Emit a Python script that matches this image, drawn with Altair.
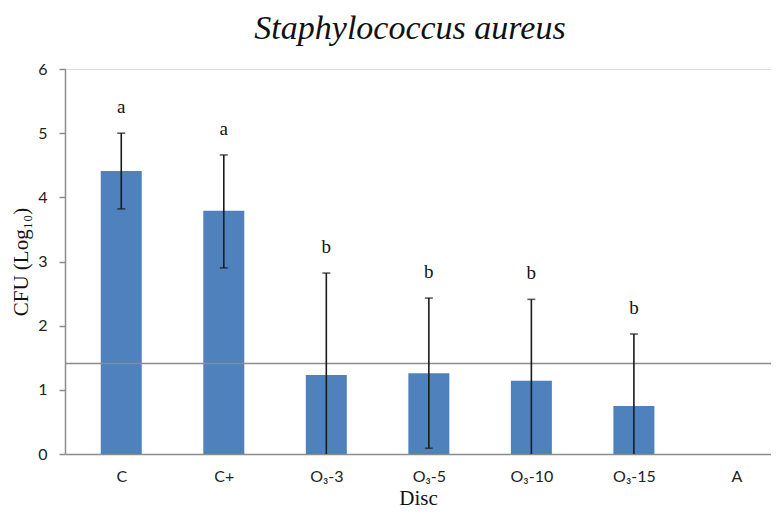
import json
import altair as alt
import pandas as pd

# ---- data ----
categories = ["C", "C+", "O₃-3", "O₃-5", "O₃-10", "O₃-15", "A"]
means = [4.41, 3.79, 1.23, 1.26, 1.14, 0.75, 0.0]
err_low = [3.82, 2.90, 0.0, 0.09, 0.0, 0.0, None]
err_high = [5.00, 4.66, 2.82, 2.43, 2.41, 1.87, None]
letters = ["a", "a", "b", "b", "b", "b", ""]
threshold = [1.41]
y_ticks = [0, 1, 2, 3, 4, 5, 6]

df = pd.DataFrame({
    "cat": categories,
    "idx": list(range(len(categories))),
    "mean": means,
    "lo": err_low,
    "hi": err_high,
    "letter": letters,
})
df["pos"] = df["idx"] + 0.5

W, H = 706, 385
STEP = 104.0
x_domain = [0, W / STEP]

label_expr = json.dumps(categories, ensure_ascii=False) + "[floor(datum.value)]"

x = alt.X("pos:Q",
          scale=alt.Scale(domain=x_domain, nice=False, zero=False),
          axis=alt.Axis(values=[i + 0.5 for i in range(len(categories))],
                        labelExpr=label_expr, title="Disc", ticks=False,
                        grid=False, domainColor="#8c8c8c", domainWidth=1.5,
                        labelFont="Lato", labelFontSize=16, labelColor="#222222",
                        labelPadding=14,
                        titleFont="Liberation Serif", titleFontSize=21,
                        titleFontWeight="normal", titleColor="#111111",
                        titlePadding=3))
y_scale = alt.Scale(domain=[0, 6], nice=False)
y_axis = alt.Axis(values=y_ticks, format="d", title="CFU (Log₁₀)", grid=False,
                  domainColor="#8c8c8c", domainWidth=1.5, tickColor="#8c8c8c",
                  tickSize=6, tickWidth=1.5,
                  labelFont="Lato", labelFontSize=16, labelColor="#222222",
                  labelPadding=12,
                  titleFont="Liberation Serif", titleFontSize=21,
                  titleFontWeight="normal", titleColor="#111111", titlePadding=6)

base = alt.Chart(df)

bars = base.transform_filter("datum.mean > 0").mark_bar(
    color="#4f81bd", size=41).encode(
    x=x, y=alt.Y("mean:Q", scale=y_scale, axis=y_axis))

thr = alt.Chart(pd.DataFrame({"t": threshold})).mark_rule(
    color="#8c8c8c", strokeWidth=1.5).encode(y=alt.Y("t:Q", scale=y_scale))

err = base.transform_filter("datum.hi != null").mark_rule(
    color="#1a1a1a", strokeWidth=1.6).encode(
    x="pos:Q", y=alt.Y("lo:Q", scale=y_scale), y2="hi:Q")

cap_hi = base.transform_filter("datum.hi != null").mark_tick(
    color="#1a1a1a", orient="horizontal", size=8, thickness=1.6).encode(
    x="pos:Q", y=alt.Y("hi:Q", scale=y_scale))

cap_lo = base.transform_filter("datum.lo > 0").mark_tick(
    color="#1a1a1a", orient="horizontal", size=8, thickness=1.6).encode(
    x="pos:Q", y=alt.Y("lo:Q", scale=y_scale))

text = base.transform_filter("datum.hi != null").mark_text(
    font="Liberation Serif", fontSize=19, color="#111111",
    baseline="middle", dy=-26).encode(
    x="pos:Q", y=alt.Y("hi:Q", scale=y_scale), text="letter:N")

chart = alt.layer(bars, thr, err, cap_hi, cap_lo, text).properties(
    width=W, height=H,
    title=alt.Title("Staphylococcus aureus", font="Liberation Serif",
                    fontStyle="italic", fontSize=34, fontWeight="normal",
                    color="#111111", anchor="middle", frame="group",
                    dx=-8, offset=15),
    autosize=alt.AutoSizeParams(type="none"),
    padding={"left": 57, "top": 61, "right": 0, "bottom": 56},
).configure_view(stroke=None).configure(background="white")

chart.save("out.html", embed_options={"renderer": "svg", "actions": False})
